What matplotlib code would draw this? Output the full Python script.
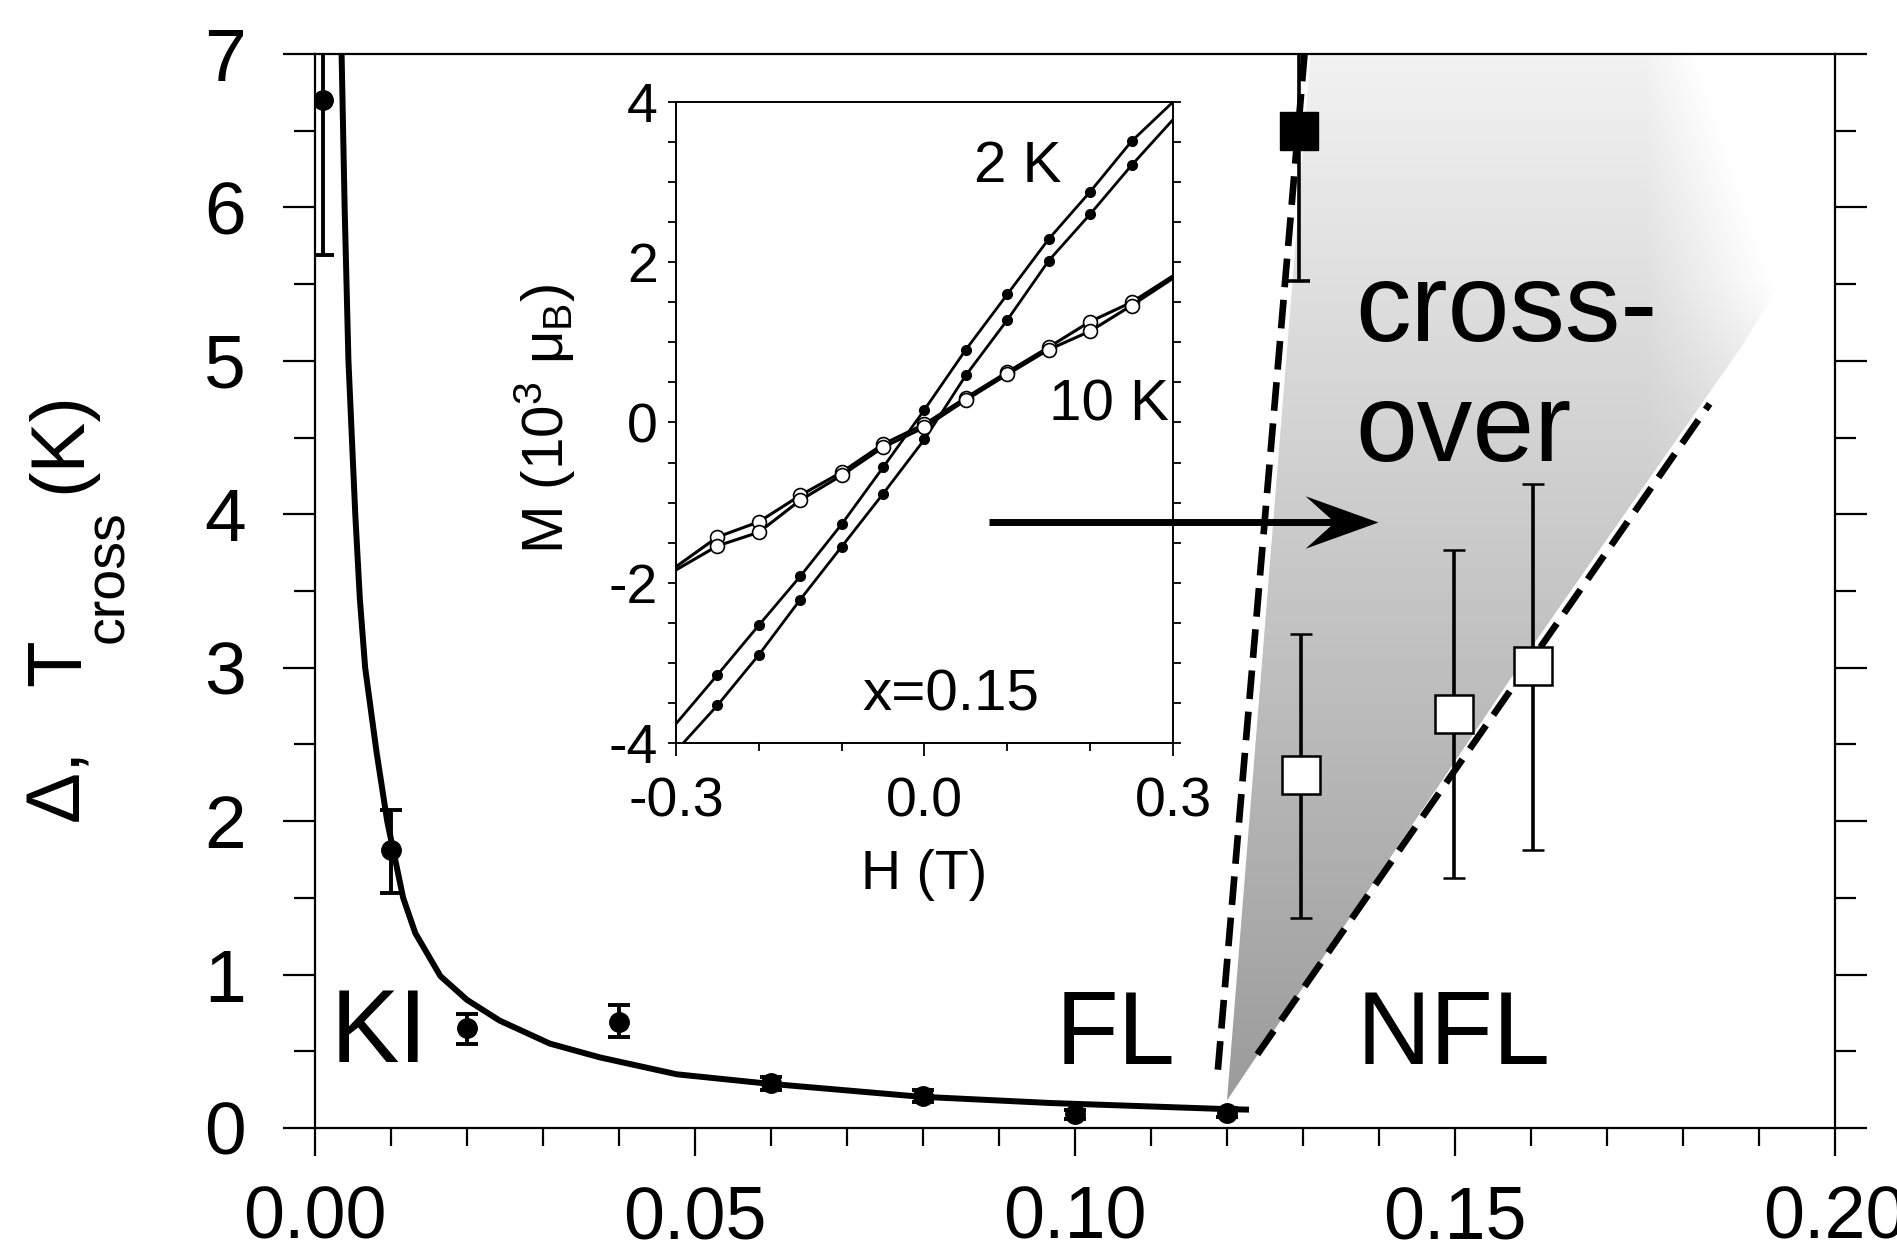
import numpy as np
import matplotlib.pyplot as plt
from matplotlib.patches import Polygon
from matplotlib.path import Path
from matplotlib.ticker import MultipleLocator

plt.rcParams['font.family'] = ['Liberation Sans', 'DejaVu Sans']
plt.rcParams['mathtext.fontset'] = 'custom'
plt.rcParams['mathtext.rm'] = 'Liberation Sans'
plt.rcParams['mathtext.it'] = 'Liberation Sans'
plt.rcParams['mathtext.bf'] = 'Liberation Sans:bold'
plt.rcParams['axes.unicode_minus'] = False

# main panel: gap (filled circles) and crossover temperature (squares) vs x
ki_x = [0.001, 0.010, 0.020, 0.040, 0.060, 0.080, 0.100, 0.120]
ki_y = [6.70, 1.81, 0.65, 0.69, 0.29, 0.21, 0.09, 0.10]
ki_lo = [1.01, 0.28, 0.10, 0.10, 0.04, 0.04, 0.03, 0.03]
ki_hi = [0.60, 0.26, 0.09, 0.11, 0.04, 0.04, 0.03, 0.03]

sq_x = [0.1295]
sq_y = [6.50]
sq_lo = [0.98]
sq_hi = [1.00]

open_x = [0.1297, 0.1499, 0.1603]
open_y = [2.30, 2.70, 3.01]
open_lo = [0.93, 1.07, 1.20]
open_hi = [0.92, 1.07, 1.19]

# fitted curve
fit_x = [0.0035, 0.0039, 0.0044, 0.0053, 0.0059, 0.0066, 0.0081, 0.0095, 0.0116,
         0.0132, 0.0165, 0.0200, 0.0243, 0.0309, 0.0375, 0.0476, 0.0594, 0.0796,
         0.0967, 0.1200, 0.1225]
fit_y = [7.00, 6.00, 5.00, 4.00, 3.45, 3.00, 2.45, 2.00, 1.50,
         1.27, 0.99, 0.835, 0.70, 0.55, 0.46, 0.35, 0.29, 0.204,
         0.163, 0.123, 0.12]

# phase boundaries (dashed) and crossover region
fl_bx = [0.1188, 0.1302]
fl_by = [0.38, 7.0]
nfl_bx = [0.1240, 0.1835]
nfl_by = [0.48, 4.72]
shade_x = [0.1200, 0.1310, 0.1960, 0.1985, 0.1970, 0.1878, 0.1610]
shade_y = [0.18, 7.0, 7.0, 6.9, 5.85, 5.10, 3.20]

# arrow from the inset to the crossover region
arrow_x = [0.0887, 0.1399]
arrow_y = [3.95, 3.95]

# inset: M(H) loops for x = 0.15
h = [-0.30, -0.25, -0.20, -0.15, -0.10, -0.05, 0.00, 0.05, 0.10, 0.15, 0.20, 0.25, 0.30]
m2_up = [-3.76, -3.15, -2.53, -1.92, -1.27, -0.56, 0.16, 0.91, 1.60, 2.29, 2.88, 3.51, 4.00]
m2_dn = [-4.10, -3.53, -2.90, -2.21, -1.55, -0.89, -0.21, 0.59, 1.28, 2.02, 2.60, 3.21, 3.78]
m10_up = [-1.80, -1.43, -1.24, -0.91, -0.62, -0.27, -0.02, 0.31, 0.63, 0.94, 1.26, 1.50, 1.83]
m10_dn = [-1.84, -1.54, -1.37, -0.97, -0.66, -0.31, -0.06, 0.28, 0.60, 0.91, 1.14, 1.46, 1.80]

fig = plt.figure(figsize=(18.97, 12.57), dpi=100)
ax = fig.add_axes([0.16605, 0.10263, 0.80127, 0.85442])
ax.set_xlim(0, 0.2)
ax.set_ylim(0, 7)

# gray crossover wedge with a vertical gradient
poly = Polygon(np.column_stack([shade_x, shade_y]), closed=True,
               facecolor='none', edgecolor='none', transform=ax.transData)
gx, gy = np.meshgrid(np.linspace(0.115, 0.2, 300), np.linspace(0, 7, 300))
val = 0.60 + 0.05 * gy
val += 0.15 * np.clip((gx - 0.175) / 0.02, 0, 1) * np.clip((gy - 3.5) / 2, 0, 1)
val = np.clip(val, 0, 1)
img = ax.imshow(np.dstack([val, val, val]), extent=[0.115, 0.2, 0, 7], origin='lower',
                aspect='auto', interpolation='bilinear', zorder=1)
img.set_clip_path(poly)

ax.plot(fl_bx, fl_by, color='k', lw=4.8, ls=(0, (4.3, 1.9)), zorder=2)
ax.plot(nfl_bx, nfl_by, color='k', lw=4.8, ls=(0, (4.3, 1.9)), zorder=2)

ax.plot(fit_x, fit_y, color='k', lw=4.3, zorder=3, solid_joinstyle='round')

ax.errorbar(ki_x, ki_y, yerr=[ki_lo, ki_hi], fmt='o', color='k', ms=14,
            elinewidth=2.8, capsize=8, capthick=2.8, zorder=4)
ax.errorbar(sq_x, sq_y, yerr=[sq_lo, sq_hi], fmt='s', color='k', ms=28,
            elinewidth=2.6, capsize=8, capthick=2.6, zorder=4)
ax.errorbar(open_x, open_y, yerr=[open_lo, open_hi], fmt='s', color='k', mfc='white',
            mec='k', mew=1.8, ms=28, elinewidth=2.6, capsize=8, capthick=2.6, zorder=4)

ax.set_xticks([0, 0.05, 0.10, 0.15, 0.20])
ax.set_xticklabels(['0.00', '0.05', '0.10', '0.15', '0.20'])
ax.xaxis.set_minor_locator(MultipleLocator(0.01))
ax.set_yticks(range(8))
ax.yaxis.set_minor_locator(MultipleLocator(0.5))
ax.tick_params(axis='x', which='major', direction='out', length=20, width=1.6,
               pad=21, labelsize=53)
ax.tick_params(axis='x', which='minor', direction='out', length=13, width=1.6)
ax.tick_params(axis='y', which='major', direction='out', length=23, width=1.6,
               pad=27, labelsize=54, right=True)
ax.tick_params(axis='y', which='minor', direction='out', length=15, width=1.6, right=True)
for s in ax.spines.values():
    s.set_linewidth(1.6)

# y label written in pieces to follow the wide spacing of the original
lab = dict(rotation=90, rotation_mode='anchor', ha='center', va='baseline')
fig.text(0.04217, 0.3715, r'$\Delta$,', fontsize=55, **lab)
fig.text(0.04217, 0.4726, 'T', fontsize=55, **lab)
fig.text(0.06484, 0.5410, 'cross', fontsize=40, **lab)
fig.text(0.04217, 0.6484, '(K)', fontsize=55, **lab)

ax.text(0.0020, 0.43, 'KI', fontsize=74, zorder=5)
ax.text(0.0974, 0.42, 'FL', fontsize=74, zorder=5)
ax.text(0.1370, 0.42, 'NFL', fontsize=74, zorder=5)
ax.text(0.1369, 5.13, 'cross-', fontsize=80, zorder=5)
ax.text(0.1369, 4.35, 'over', fontsize=80, zorder=5)

# inset
axi = fig.add_axes([0.35635, 0.40891, 0.26199, 0.50995])
axi.set_xlim(-0.3, 0.3)
axi.set_ylim(-4, 4)
mk = list(range(1, 12))
axi.plot(h, m2_up, color='k', lw=2.0, marker='o', ms=7, markevery=mk)
axi.plot(h, m2_dn, color='k', lw=2.0, marker='o', ms=7, markevery=mk)
axi.plot(h, m10_up, color='k', lw=2.2, marker='o', ms=10, mfc='white', mec='k',
         mew=1.2, markevery=mk)
axi.plot(h, m10_dn, color='k', lw=2.2, marker='o', ms=10, mfc='white', mec='k',
         mew=1.2, markevery=mk)

axi.set_xticks([-0.3, 0.0, 0.3])
axi.set_xticklabels(['-0.3', '0.0', '0.3'])
axi.xaxis.set_minor_locator(MultipleLocator(0.1))
axi.set_yticks([-4, -2, 0, 2, 4])
axi.yaxis.set_minor_locator(MultipleLocator(0.5))
axi.tick_params(axis='x', which='major', direction='out', length=9, width=1.3,
                pad=15, labelsize=40)
axi.tick_params(axis='x', which='minor', direction='out', length=6, width=1.3)
axi.tick_params(axis='y', which='major', direction='out', length=6, width=1.3,
                pad=7, labelsize=40, right=True)
axi.tick_params(axis='y', which='minor', direction='out', length=6, width=1.3, right=True)
for s in axi.spines.values():
    s.set_linewidth(1.4)

axi.set_xlabel('H (T)', fontsize=40, va='top')
axi.xaxis.set_label_coords(0.5, -0.165)
fig.text(0.2975, 0.6671, r'M (10$^{3}$ $\mu_{\mathrm{B}}$)', fontsize=42, **lab)

axi.text(0.060, 3.0, '2 K', fontsize=42)
axi.text(0.150, 0.03, '10 K', fontsize=42)
axi.text(-0.0755, -3.59, 'x=0.15', fontsize=42)

# arrow, drawn in the inset so it sits on top of it
head = Path([(0, 0), (-1, 0.36), (-0.6, 0), (-1, -0.36), (0, 0)],
            [Path.MOVETO, Path.LINETO, Path.LINETO, Path.LINETO, Path.CLOSEPOLY])
axi.plot([arrow_x[0], arrow_x[1] - 0.004], arrow_y, color='k', lw=5,
         transform=ax.transData, clip_on=False, zorder=10, solid_capstyle='butt')
axi.plot([arrow_x[1]], [arrow_y[1]], marker=head, ms=105, color='k', mew=0,
         transform=ax.transData, clip_on=False, zorder=11)

fig.savefig('out.png', dpi=100)
